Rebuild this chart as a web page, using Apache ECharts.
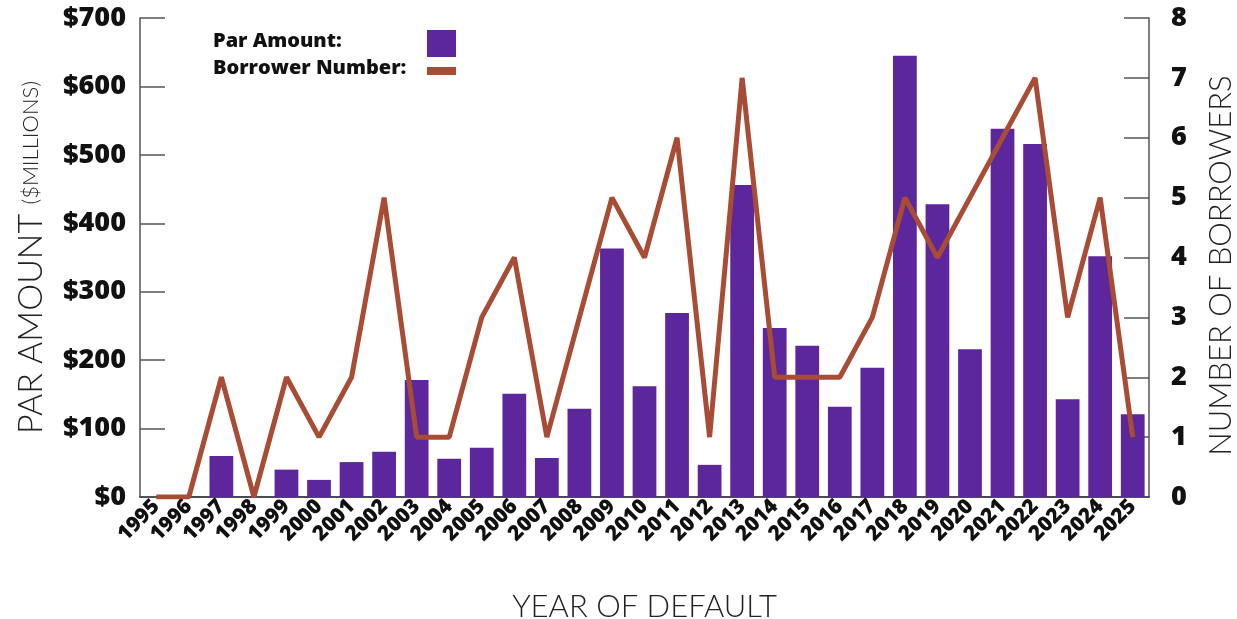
<!DOCTYPE html>
<html>
<head>
<meta charset="utf-8">
<script src="https://cdn.jsdelivr.net/npm/echarts@6/dist/echarts.min.js"></script>
<style>
  html, body { margin: 0; padding: 0; background: #fff; }
  #chart { width: 1237px; height: 619px; }
</style>
</head>
<body>
<div id="chart"></div>
<script>
// Defaults by year: par amount ($ millions) and number of borrowers
const years = ['1995','1996','1997','1998','1999','2000','2001','2002','2003','2004','2005',
  '2006','2007','2008','2009','2010','2011','2012','2013','2014','2015','2016','2017',
  '2018','2019','2020','2021','2022','2023','2024','2025'];
const parAmount = [0, 0, 60, 0, 40, 25, 51, 66, 171, 56, 72, 151, 57, 129, 363, 162, 269,
  47, 456, 247, 221, 132, 189, 645, 428, 216, 538, 516, 143, 352, 121];
const borrowerNumber = [0, 0, 2, 0, 2, 1, 2, 5, 1, 1, 3, 4, 1, 3, 5, 4, 6, 1, 7, 2, 2, 2, 3,
  5, 4, 5, 6, 7, 3, 5, 1];

const PURPLE = '#5C279D';
const RUST = '#A84C35';
const BOLD = '"Open Sans", Lato, sans-serif';
const LIGHT = 'Lato, "Open Sans", sans-serif';

const chart = echarts.init(document.getElementById('chart'));
chart.setOption({
  animation: false,
  grid: { left: 140, right: 88, top: 18, bottom: 122, containLabel: false, outerBoundsMode: 'none' },
  xAxis: {
    type: 'category',
    data: years,
    name: 'YEAR OF DEFAULT',
    nameLocation: 'middle',
    nameGap: 94,
    nameTextStyle: { fontFamily: LIGHT, fontWeight: 300, fontSize: 31, color: '#222' },
    axisLine: { lineStyle: { color: '#111', width: 1.5 } },
    axisTick: { show: false },
    axisLabel: {
      interval: 0, rotate: 45, margin: 6,
      fontFamily: BOLD, fontWeight: 800, fontSize: 21, color: '#111'
    }
  },
  yAxis: [
    {
      type: 'value', min: 0, max: 700, interval: 100,
      name: '{big|PAR AMOUNT }{small|($MILLIONS)}',
      nameLocation: 'middle',
      nameRotate: 90,
      nameGap: 92,
      nameTextStyle: {
        rich: {
          big: { fontFamily: LIGHT, fontWeight: 300, fontSize: 34, color: '#222' },
          small: { fontFamily: LIGHT, fontWeight: 300, fontSize: 22, color: '#222' }
        }
      },
      axisLine: { show: true, lineStyle: { color: '#555', width: 1.5 } },
      axisTick: { show: true, inside: true, length: 25, lineStyle: { color: '#555', width: 1.5 } },
      splitLine: { show: false },
      axisLabel: {
        margin: 14, formatter: v => '$' + v,
        fontFamily: BOLD, fontWeight: 800, fontSize: 27, color: '#111'
      }
    },
    {
      type: 'value', min: 0, max: 8, interval: 1,
      name: 'NUMBER OF BORROWERS',
      nameLocation: 'middle',
      nameRotate: 90,
      nameGap: 56,
      nameTextStyle: { fontFamily: LIGHT, fontWeight: 300, fontSize: 31, color: '#222', padding: [0, 16, 0, 0] },
      axisLine: { show: true, lineStyle: { color: '#555', width: 1.5 } },
      axisTick: { show: true, inside: true, length: 25, lineStyle: { color: '#555', width: 1.5 } },
      splitLine: { show: false },
      axisLabel: {
        margin: 22,
        fontFamily: BOLD, fontWeight: 800, fontSize: 27, color: '#111'
      }
    }
  ],
  series: [
    {
      name: 'Par Amount',
      type: 'bar',
      data: parAmount,
      yAxisIndex: 0,
      barCategoryGap: '27%',
      itemStyle: { color: PURPLE }
    },
    {
      name: 'Borrower Number',
      type: 'line',
      data: borrowerNumber,
      yAxisIndex: 1,
      symbol: 'none',
      lineStyle: { color: RUST, width: 5 },
      z: 3
    }
  ],
  graphic: [
    { type: 'text', left: 213, top: 31,
      style: { text: 'Par Amount:', fontFamily: BOLD, fontWeight: 800, fontSize: 20, fill: '#111' } },
    { type: 'text', left: 213, top: 58,
      style: { text: 'Borrower Number:', fontFamily: BOLD, fontWeight: 800, fontSize: 20, fill: '#111' } },
    { type: 'rect', shape: { x: 427, y: 30, width: 29, height: 27 }, style: { fill: PURPLE } },
    { type: 'rect', shape: { x: 427, y: 67, width: 29, height: 8 }, style: { fill: RUST } }
  ]
});
</script>
</body>
</html>
